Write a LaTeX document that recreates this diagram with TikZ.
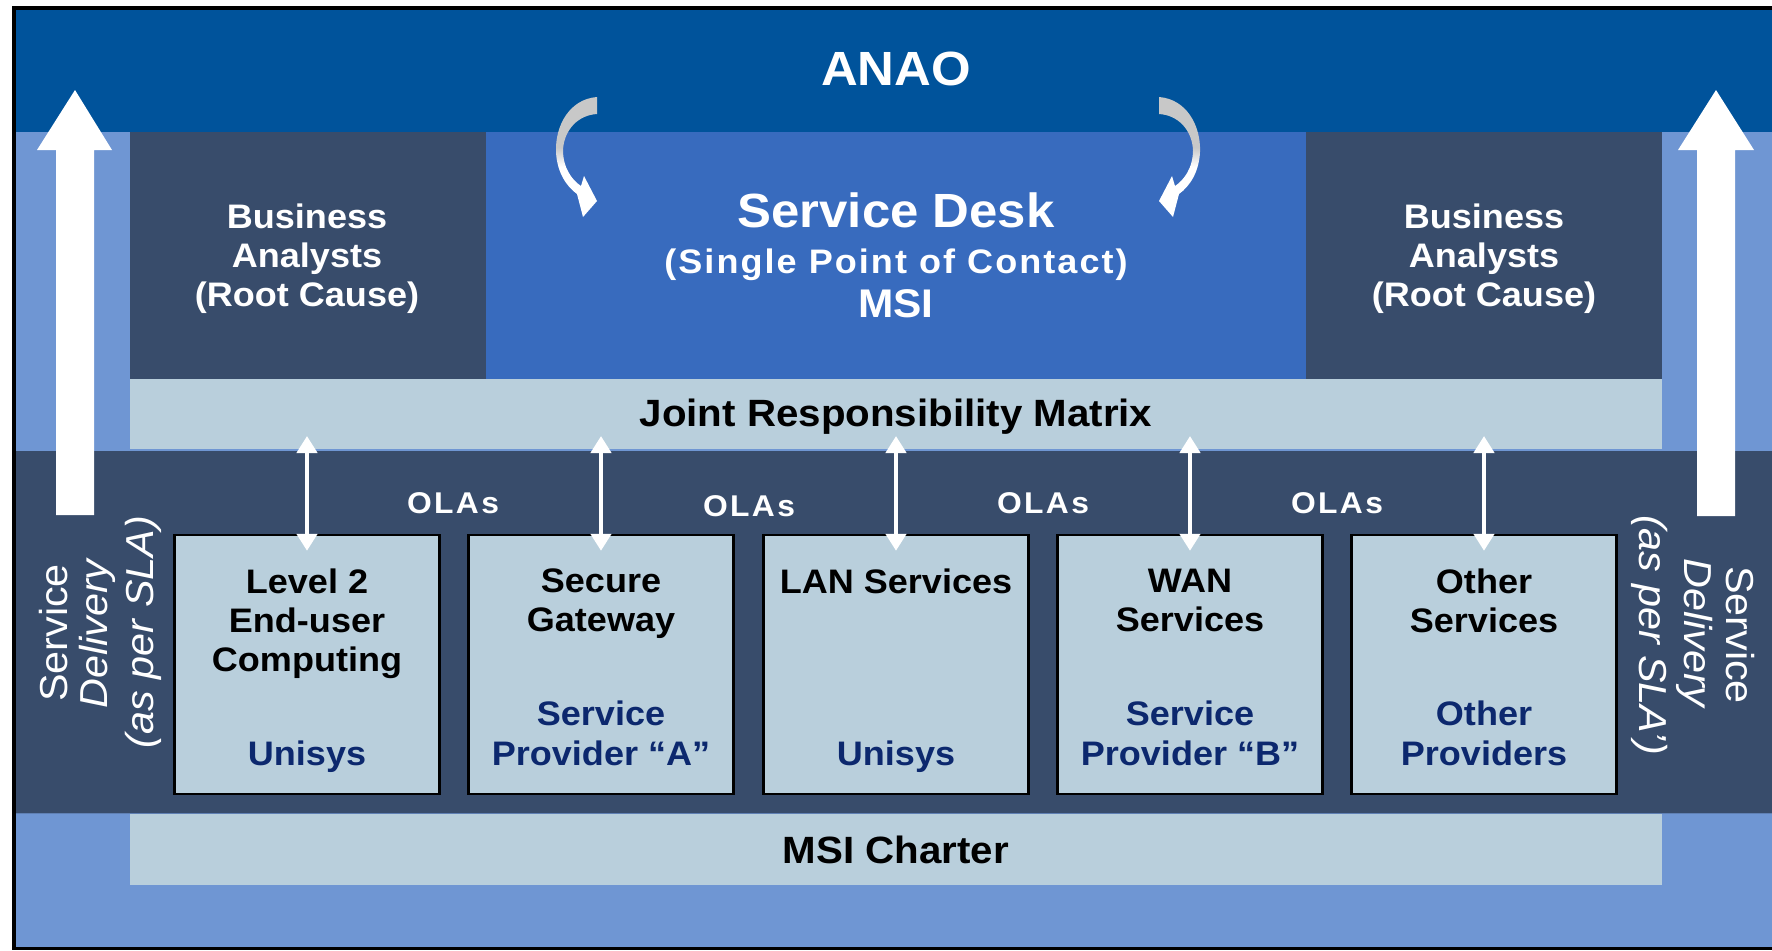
\documentclass[tikz,border=0pt]{standalone}
\usepackage{fontspec}
\setmainfont{Liberation Sans}[FakeStretch=1.06]
\usetikzlibrary{arrows.meta}
\definecolor{topblue}{RGB}{0,83,155}
\definecolor{midblue}{RGB}{111,150,211}
\definecolor{slate}{RGB}{56,76,107}
\definecolor{sdblue}{RGB}{56,107,190}
\definecolor{lightbar}{RGB}{185,207,220}
\definecolor{navy}{RGB}{12,40,110}
\definecolor{curvgray}{RGB}{200,200,200}
\pgfdeclareverticalshading{curvshade}{100bp}{color(0bp)=(white); color(46bp)=(white); color(54bp)=(curvgray); color(100bp)=(curvgray)}
\begin{document}
\begin{tikzpicture}[x=0.5pt,y=-0.5pt,
  svcbox/.style={draw=black, line width=1.2pt, fill=lightbar, minimum width=132.5pt, minimum height=129.5pt, inner sep=0pt},
  titletxt/.style={anchor=north, inner sep=0pt, align=center, font=\fontsize{17pt}{19.5pt}\selectfont\bfseries, text=black},
  provtxt/.style={anchor=south, inner sep=0pt, align=center, text depth=3.5pt, font=\fontsize{17pt}{20pt}\selectfont\bfseries, text=navy},
  batxt/.style={anchor=north, inner sep=0pt, align=center, font=\fontsize{17pt}{19.5pt}\selectfont\bfseries, text=white},
  olatxt/.style={anchor=base, inner sep=0pt, font=\fontsize{15pt}{18pt}\selectfont\bfseries\addfontfeature{LetterSpace=8}, text=white},
  bartxt/.style={anchor=base, inner sep=0pt, font=\fontsize{19pt}{22pt}\selectfont\bfseries, text=black},
  sdl/.style={anchor=base, inner sep=0pt, font=\fontsize{19.5pt}{22pt}\selectfont, text=white},
  sdli/.style={sdl, font=\fontsize{19.5pt}{22pt}\selectfont\itshape},
  olaarrow/.style={white, line width=2.25pt, {Triangle[width=10pt,length=8.5pt]}-{Triangle[width=10pt,length=8.5pt]}},
  bigarrow/.style={fill=white},
  curvarrow/.style={shading=curvshade}
]
\useasboundingbox (0,0) rectangle (1772,950);
% frame and backgrounds
\fill[white] (0,0) rectangle (1772,950);
\fill[black] (12,6) rectangle (1772,950);
\fill[midblue] (16,10) rectangle (1772,947);
\fill[topblue] (16,10) rectangle (1772,132);
\fill[slate] (130,132) rectangle (486,379);
\fill[sdblue] (486,132) rectangle (1306,379);
\fill[slate] (1306,132) rectangle (1662,379);
\fill[lightbar] (130,379) rectangle (1662,449);
\fill[slate] (16,449) rectangle (1772,814);
\draw[midblue, line width=0.8pt] (16,450) -- (1772,450);
\draw[midblue!70!slate, line width=0.6pt] (16,813.5) -- (1772,813.5);
\fill[lightbar] (130,814) rectangle (1662,885);

% big side arrows
\fill[bigarrow] (56,515) -- (56,150) -- (37,150) -- (75,90) -- (112,150) -- (94,150) -- (94,515) -- cycle;
\fill[bigarrow] (1697,516) -- (1697,150) -- (1678,150) -- (1716,90) -- (1754,150) -- (1735,150) -- (1735,516) -- cycle;

% curved arrows
\shade[curvarrow] (597,97) .. controls (570,99) and (555,125) .. (556,152)
  .. controls (557,172) and (566,186) .. (577,194) -- (583,217) -- (597,201) -- (584,176) -- (581,186)
  .. controls (572,180) and (563,168) .. (563,150) .. controls (564,130) and (578,115) .. (597,114) -- cycle;
\begin{scope}[shift={(1756,0)}, xscale=-1]
\shade[curvarrow] (597,97) .. controls (570,99) and (555,125) .. (556,152)
  .. controls (557,172) and (566,186) .. (577,194) -- (583,217) -- (597,201) -- (584,176) -- (581,186)
  .. controls (572,180) and (563,168) .. (563,150) .. controls (564,130) and (578,115) .. (597,114) -- cycle;
\end{scope}

% titles
\node[anchor=base, inner sep=0pt, font=\fontsize{24pt}{28pt}\selectfont\bfseries, text=white] (anao) at (896,85) {ANAO};
\node[anchor=base, inner sep=0pt, font=\fontsize{24pt}{28pt}\selectfont\bfseries, text=white] (sd) at (896,227) {Service Desk};
\node[anchor=base, inner sep=0pt, font=\fontsize{17pt}{20pt}\selectfont\bfseries\addfontfeature{LetterSpace=6}, text=white] (spoc) at (896,273) {(Single Point of Contact)};
\node[anchor=base, inner sep=0pt, font=\fontsize{20pt}{24pt}\selectfont\bfseries, text=white] (msi) at (896,317) {MSI};
\node[batxt] (ba1) at (307,203.5) {Business\\Analysts\\(Root Cause)};
\node[batxt] (ba2) at (1484,203.5) {Business\\Analysts\\(Root Cause)};
\node[bartxt] (jrm) at (896,426) {Joint Responsibility Matrix};
\node[bartxt] (charter) at (896,863) {MSI Charter};

% service boxes
\node[svcbox] (b1) at (307,664.5) {};
\node[svcbox] (b2) at (601,664.5) {};
\node[svcbox] (b3) at (896,664.5) {};
\node[svcbox] (b4) at (1190,664.5) {};
\node[svcbox] (b5) at (1484,664.5) {};

\node[titletxt] (t1) at (307,568.5) {Level 2\\End-user\\Computing};
\node[titletxt] (t2) at (601,568.5) {Secure\\Gateway};
\node[titletxt] (t3) at (896,568.5) {LAN Services};
\node[titletxt] (t4) at (1190,568.5) {WAN\\Services};
\node[titletxt] (t5) at (1484,568.5) {Other\\Services};

\node[provtxt] (p1) at (307,773) {Unisys};
\node[provtxt] (p2) at (601,773) {Service\\Provider “A”};
\node[provtxt] (p3) at (896,773) {Unisys};
\node[provtxt] (p4) at (1190,773) {Service\\Provider “B”};
\node[provtxt] (p5) at (1484,773) {Other\\Providers};

% OLAs
\node[olatxt] (o1) at (453,513) {OLAs};
\node[olatxt] (o2) at (749,516) {OLAs};
\node[olatxt] (o3) at (1043,513) {OLAs};
\node[olatxt] (o4) at (1337,513) {OLAs};

% OLA arrows
\coordinate (j1) at (307,436);
\coordinate (j2) at (601,436);
\coordinate (j3) at (896,436);
\coordinate (j4) at (1190,436);
\coordinate (j5) at (1484,436);
\draw[olaarrow] (j1) -- ([yshift=-8.5pt]b1.north);
\draw[olaarrow] (j2) -- ([yshift=-8.5pt]b2.north);
\draw[olaarrow] (j3) -- ([yshift=-8.5pt]b3.north);
\draw[olaarrow] (j4) -- ([yshift=-8.5pt]b4.north);
\draw[olaarrow] (j5) -- ([yshift=-8.5pt]b5.north);

% rotated service delivery labels
\node[sdl, rotate=90] (ls1) at (67,633) {Service};
\node[sdli, rotate=90] (ls2) at (107,634) {Delivery};
\node[sdli, rotate=90] (ls3) at (153,632) {(as per SLA)};
\node[sdl, rotate=-90] (rs1) at (1726,635) {Service};
\node[sdli, rotate=-90] (rs2) at (1684,633) {Delivery};
\node[sdli, rotate=-90] (rs3) at (1639,635) {(as per SLA’)};
\end{tikzpicture}
\end{document}
